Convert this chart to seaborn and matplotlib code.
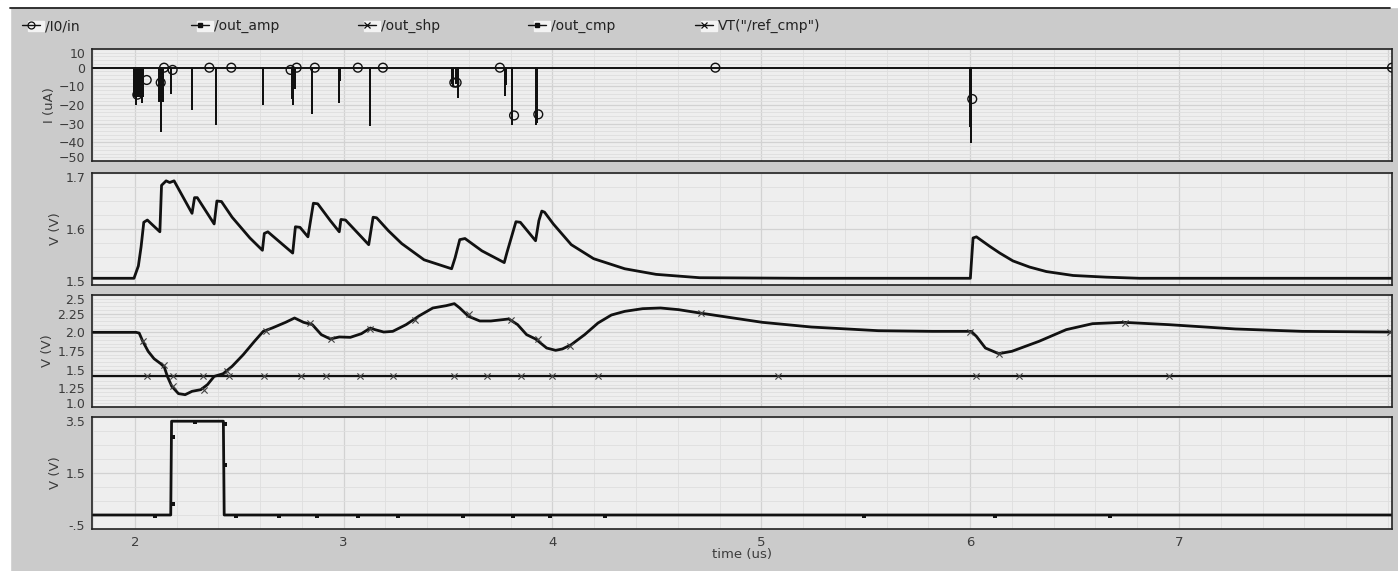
"""
Waveform viewer style plot: input current, amp / shaper / comparator outputs.
"""

import pandas as pd
import matplotlib
matplotlib.use("Agg")
import matplotlib.pyplot as plt
import seaborn as sns
from matplotlib.lines import Line2D
from matplotlib.patches import Rectangle
from matplotlib.ticker import MultipleLocator
from matplotlib.transforms import ScaledTranslation

# ---- data (time in us) ----
# /I0/in : current pulses (time, depth in uA)
spike_t = [1.996, 2.006, 2.017, 2.025, 2.033, 2.041,
           2.117, 2.121, 2.124, 2.133, 2.172,
           2.275, 2.387, 2.612, 2.751, 2.755, 2.759, 2.767, 2.847, 2.849,
           2.978, 2.981, 3.124,
           3.517, 3.524, 3.538, 3.547, 3.774, 3.776, 3.808, 3.923, 3.925,
           6.001, 6.004]
spike_i = [-15, -19.5, -15, -15, -18.6, -15,
           -17.7, -17, -34, -17.7, -13.8,
           -22.2, -30.1, -19.5, -16, -16, -19.5, -11, -10.6, -24.5,
           -18.6, -6.5, -30.5,
           -8.3, -9.8, -8.3, -15.9, -14.6, -8.5, -30.2, -30.2, -29,
           -31.3, -39.8]
in_mark_t = [2.012, 2.057, 2.124, 2.140, 2.181, 2.357, 2.462, 2.746, 2.775,
             2.862, 3.068, 3.188, 3.530, 3.541, 3.748, 3.816, 3.932, 4.78,
             6.01, 8.02]
in_mark_i = [-14.5, -6.6, -8, 0, -1.2, 0, 0, -1.2, 0,
             0, 0, 0, -8, -8, 0, -25.6, -25, 0,
             -16.8, 0]

# /out_amp
amp_t = [1.80, 1.996, 2.017, 2.030, 2.043, 2.060, 2.120, 2.128, 2.150, 2.167,
         2.188, 2.231, 2.274, 2.286, 2.299, 2.380, 2.393, 2.415, 2.466, 2.551,
         2.611, 2.620, 2.637, 2.756, 2.769, 2.791, 2.829, 2.855, 2.876, 2.936,
         2.979, 2.987, 3.009, 3.120, 3.141, 3.158, 3.214, 3.278, 3.385, 3.517,
         3.534, 3.556, 3.581, 3.662, 3.769, 3.782, 3.825, 3.846, 3.919, 3.935,
         3.949, 3.962, 4.004, 4.090, 4.197, 4.346, 4.496, 4.705, 5.20, 6.001,
         6.005, 6.014, 6.030, 6.094, 6.142, 6.205, 6.285, 6.365, 6.493, 6.652,
         6.812, 8.02]
amp_v = [1.512, 1.512, 1.534, 1.568, 1.612, 1.616, 1.595, 1.678, 1.686, 1.683,
         1.686, 1.657, 1.628, 1.656, 1.656, 1.609, 1.650, 1.649, 1.621, 1.584,
         1.562, 1.592, 1.595, 1.557, 1.604, 1.603, 1.586, 1.646, 1.645, 1.615,
         1.595, 1.617, 1.616, 1.572, 1.621, 1.620, 1.597, 1.574, 1.545, 1.529,
         1.549, 1.581, 1.583, 1.561, 1.540, 1.558, 1.613, 1.612, 1.579, 1.615,
         1.632, 1.630, 1.609, 1.572, 1.547, 1.529, 1.519, 1.513, 1.512, 1.512,
         1.535, 1.584, 1.586, 1.569, 1.557, 1.543, 1.532, 1.524, 1.517, 1.514,
         1.512, 1.512]

# /out_shp
shp_t = [1.80, 2.006, 2.021, 2.038, 2.064, 2.092, 2.124, 2.141, 2.156, 2.177,
         2.209, 2.241, 2.274, 2.316, 2.348, 2.380, 2.423, 2.466, 2.519, 2.573,
         2.615, 2.658, 2.722, 2.765, 2.808, 2.850, 2.893, 2.936, 2.979, 3.032,
         3.085, 3.128, 3.150, 3.192, 3.235, 3.299, 3.363, 3.427, 3.491, 3.530,
         3.556, 3.598, 3.652, 3.705, 3.791, 3.833, 3.876, 3.919, 3.972, 4.015,
         4.047, 4.090, 4.154, 4.218, 4.282, 4.346, 4.432, 4.517, 4.603, 4.705,
         5.005, 5.24, 5.56, 5.82, 6.005, 6.03, 6.073, 6.137, 6.20, 6.33,
         6.46, 6.586, 6.735, 6.95, 7.27, 7.59, 8.02]
shp_v = [2.00, 2.00, 1.99, 1.88, 1.745, 1.647, 1.58, 1.536, 1.41, 1.277,
         1.179, 1.165, 1.21, 1.232, 1.30, 1.41, 1.446, 1.545, 1.70, 1.88,
         2.013, 2.058, 2.134, 2.192, 2.134, 2.103, 1.969, 1.911, 1.938, 1.933,
         1.982, 2.058, 2.036, 2.004, 2.013, 2.103, 2.223, 2.326, 2.357, 2.384,
         2.326, 2.214, 2.152, 2.152, 2.179, 2.103, 1.969, 1.911, 1.79, 1.759,
         1.777, 1.835, 1.969, 2.125, 2.232, 2.281, 2.317, 2.326, 2.304, 2.259,
         2.134, 2.071, 2.022, 2.013, 2.013, 1.946, 1.79, 1.714, 1.746, 1.88,
         2.036, 2.116, 2.134, 2.103, 2.045, 2.013, 2.004]
shp_mark_t = [2.038, 2.141, 2.184, 2.333, 2.440, 2.628, 2.840, 2.940, 3.128,
              3.342, 3.598, 3.801, 3.929, 4.085, 4.71, 6.0, 6.14, 6.74, 8.01]
shp_mark_v = [1.88, 1.56, 1.28, 1.23, 1.48, 2.02, 2.12, 1.91, 2.05,
              2.17, 2.24, 2.17, 1.91, 1.82, 2.26, 2.01, 1.71, 2.13, 2.0]

# VT("/ref_cmp")
ref_t = [1.80, 8.02]
ref_v = [1.42, 1.42]
ref_mark_t = [2.056, 2.184, 2.327, 2.449, 2.620, 2.795, 2.915, 3.077, 3.235,
              3.530, 3.688, 3.850, 3.996, 4.218, 5.082, 6.03, 6.236, 6.954]

# /out_cmp
cmp_t = [1.80, 2.172, 2.176, 2.424, 2.428, 8.02]
cmp_v = [0.0, 0.0, 3.35, 3.35, 0.0, 0.0]
cmp_mark_t = [2.098, 2.184, 2.184, 2.29, 2.433, 2.433, 2.483, 2.692, 2.872,
              3.071, 3.261, 3.573, 3.812, 3.987, 4.252, 5.49, 6.12, 6.67]
cmp_mark_v = [-0.04, 0.38, 2.78, 3.32, 3.26, 1.77, -0.04, -0.04, -0.04,
              -0.04, -0.04, -0.04, -0.04, -0.04, -0.04, -0.04, -0.04, -0.04]

x_ticks = [2, 3, 4, 5, 6, 7]
in_ticks = [10, 0, -10, -20, -30, -40, -50]
amp_ticks = [1.5, 1.6, 1.7]
shp_ticks = [1.0, 1.25, 1.5, 1.75, 2.0, 2.25, 2.5]
shp_ticklabels = ["1.0", "1.25", "1.5", "1.75", "2.0", "2.25", "2.5"]
cmp_ticks = [-0.5, 1.5, 3.5]
cmp_ticklabels = ["-.5", "1.5", "3.5"]

# ---- style ----
sns.set_style("white", {"axes.facecolor": "#eeeeee"})
plt.rcParams["font.family"] = ["DejaVu Sans"]
plt.rcParams["font.size"] = 9

INK = "#111111"
TXT = "#3c3c3c"
W, H = 1398, 571

fig = plt.figure(figsize=(W / 100, H / 100), dpi=100, facecolor="#cbcbcb")

# white strips at top and left + dark rule (window chrome)
fig.patches.append(Rectangle((0, 1 - 7 / H), 1, 7 / H, transform=fig.transFigure,
                             color="white", zorder=0))
fig.patches.append(Rectangle((0, 0), 10 / W, 1, transform=fig.transFigure,
                             color="white", zorder=0))
fig.lines.append(Line2D([10 / W, 1390 / W], [1 - 7.5 / H, 1 - 7.5 / H],
                        transform=fig.transFigure, color="#222222", lw=1.3))

left, right = 92 / W, 1392 / W
tops = [49, 173, 295, 417]
ph = 112
axes = [fig.add_axes([left, 1 - (t + ph) / H, right - left, ph / H]) for t in tops]


def style_axis(ax, ylim, ticks, ticklabels, minor):
    ax.set_xlim(1.795, 8.02)
    ax.set_ylim(*ylim)
    ax.xaxis.set_major_locator(MultipleLocator(1))
    ax.xaxis.set_minor_locator(MultipleLocator(0.2))
    ax.set_yticks(ticks, ticklabels)
    ax.yaxis.set_minor_locator(MultipleLocator(minor))
    ax.grid(which="major", color="#d2d2d2", lw=0.9)
    ax.grid(which="minor", color="#dedede", lw=0.6)
    ax.set_axisbelow(True)
    for s in ax.spines.values():
        s.set_color("#222222")
        s.set_linewidth(1.2)
    ax.tick_params(axis="y", which="major", direction="out", length=4, width=0.8,
                   color="#444444", labelcolor=TXT, labelsize=9, pad=1)
    ax.tick_params(axis="y", which="minor", direction="out", length=2.5,
                   width=0.6, color="#555555")
    ax.set_ylabel("V (V)", color=TXT, fontsize=9.5, labelpad=2)


for ax in axes[:3]:
    ax.tick_params(axis="x", which="both", length=0, labelbottom=False)

# panel 1: current
ax = axes[0]
pulse_t, pulse_i = [1.795], [0.0]
for t, i in zip(spike_t, spike_i):
    pulse_t += [t, t, t]
    pulse_i += [0.0, i, 0.0]
pulse_t.append(8.02)
pulse_i.append(0.0)
df_in = pd.DataFrame({"t": pulse_t, "i": pulse_i})
sns.lineplot(data=df_in, x="t", y="i", ax=ax, sort=False, estimator=None,
             color=INK, lw=1.4)
sns.scatterplot(x=in_mark_t, y=in_mark_i, ax=ax, marker="o", s=40,
                facecolor="none", edgecolor=INK, linewidth=1.0, zorder=5)
style_axis(ax, (-50, 10), in_ticks, [str(v).replace("-", "\u2212") for v in in_ticks], 2)
ax.set_ylabel("I (uA)", color=TXT, fontsize=9.5, labelpad=2)

# panel 2: amplifier output
ax = axes[1]
sns.lineplot(x=amp_t, y=amp_v, ax=ax, sort=False, estimator=None, color=INK, lw=2.0)
style_axis(ax, (1.5, 1.7), amp_ticks, [str(v) for v in amp_ticks], 0.025)

# panel 3: shaper output + comparator threshold
ax = axes[2]
sns.lineplot(x=shp_t, y=shp_v, ax=ax, sort=False, estimator=None, color=INK, lw=2.0)
sns.lineplot(x=ref_t, y=ref_v, ax=ax, sort=False, estimator=None, color=INK, lw=1.6)
sns.scatterplot(x=shp_mark_t, y=shp_mark_v, ax=ax, marker="x", s=20,
                color="#444444", linewidth=0.8, zorder=5)
sns.scatterplot(x=ref_mark_t, y=ref_v[:1] * len(ref_mark_t), ax=ax, marker="x",
                s=20, color="#444444", linewidth=0.8, zorder=5)
style_axis(ax, (1.0, 2.5), shp_ticks, shp_ticklabels, 0.05)

# panel 4: comparator output
ax = axes[3]
sns.lineplot(x=cmp_t, y=cmp_v, ax=ax, sort=False, estimator=None, color=INK, lw=2.0)
sns.scatterplot(x=cmp_mark_t, y=cmp_mark_v, ax=ax, marker="s", s=8,
                color=INK, linewidth=0, zorder=5)
style_axis(ax, (-0.5, 3.5), cmp_ticks, cmp_ticklabels, 0.5)
ax.set_xticks(x_ticks, [str(v) for v in x_ticks])
ax.tick_params(axis="x", which="major", direction="out", length=4, width=0.8,
               color="#444444", labelcolor=TXT, labelsize=9.5, pad=1)
ax.tick_params(axis="x", which="minor", direction="out", length=2.5, width=0.6,
               color="#555555")
ax.set_xlabel("time (us)", color=TXT, fontsize=9.5, labelpad=-1)

# squeeze the end labels of each panel inward so neighbours don't collide
for ax in axes:
    ticks = ax.yaxis.get_major_ticks()
    lo, hi = ax.get_ylim()
    for tk, val in zip(ticks, ax.get_yticks()):
        if abs(val - hi) < 1e-9:
            dy = -3 / 72
        elif abs(val - lo) < 1e-9:
            dy = 3 / 72
        else:
            continue
        tk.label1.set_transform(tk.label1.get_transform()
                                + ScaledTranslation(0, dy, fig.dpi_scale_trans))

# legend row across the top
legend_items = [
    ("/I0/in", dict(marker="o", ms=5, mfc="none", mew=0.9), 28),
    ("/out_amp", dict(marker="s", ms=2.5), 197),
    ("/out_shp", dict(marker="x", ms=5, mew=0.9), 364),
    ("/out_cmp", dict(marker="s", ms=2.5), 534),
    ('VT("/ref_cmp")', dict(marker="x", ms=5, mew=0.9), 701),
]
for label, mk, xpx in legend_items:
    fig.patches.append(Rectangle((xpx / W, 1 - 31 / H), 16 / W, 10 / H,
                                 transform=fig.transFigure, color="#f3f3f3", zorder=1))
    handle = Line2D([], [], color=INK, lw=1.0, **mk)
    fig.legend(handles=[handle], labels=[label], loc="center left",
               bbox_to_anchor=(xpx / W - 0.004, 1 - 26 / H), frameon=False,
               handlelength=1.3, handletextpad=0.3, fontsize=10,
               labelcolor="#222222", borderaxespad=0, borderpad=0)

fig.savefig("out.png", dpi=100, facecolor=fig.get_facecolor())
